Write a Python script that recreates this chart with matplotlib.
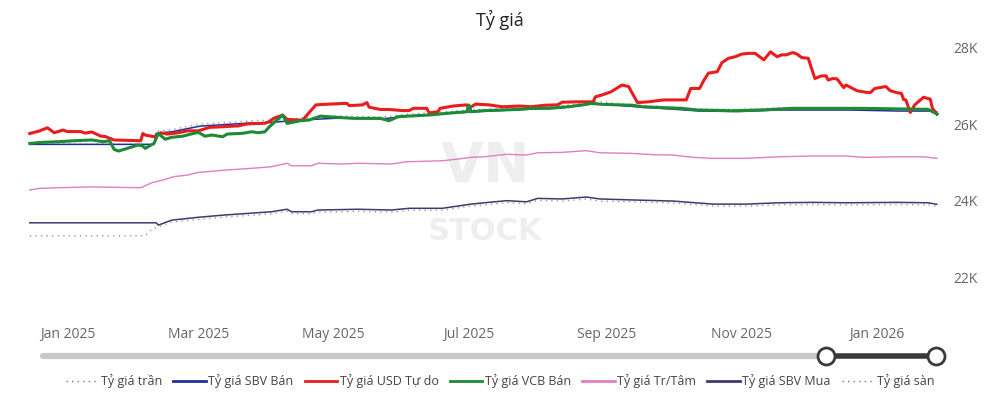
import numpy as np
import pandas as pd
import matplotlib
matplotlib.use("Agg")
import matplotlib.pyplot as plt
import matplotlib.dates as mdates
from matplotlib.lines import Line2D

plt.rcParams['font.family'] = ['Open Sans', 'DejaVu Sans']

BASE = pd.Timestamp("2025-01-01")

# ---- data: days since 2025-01-01 and values (VND) ----
usd_days = [-17, -13, -9, -6, -2, 0, 6, 8, 11, 15, 17, 21, 33, 34, 35, 39, 42, 45, 50, 54, 59, 64, 71, 77, 81,
            89, 91, 93, 97, 99, 106, 112, 118, 126, 127, 133, 135, 136, 141, 145, 151, 154, 156, 162, 163, 167,
            168, 174, 180, 181, 184, 190, 196, 204, 209, 215, 221, 223, 230, 237, 238, 241, 245, 250, 253, 257,
            262, 269, 279, 281, 285, 287, 289, 293, 295, 298, 301, 304, 307, 310, 314, 317, 320, 322, 324, 327,
            329, 331, 334, 337, 340, 342, 343, 345, 347, 350, 351, 356, 360, 362, 364, 369, 371, 374, 376, 377,
            378, 380, 382, 386, 389, 390, 392]
usd_free = [25760, 25820, 25910, 25780, 25850, 25810, 25810, 25770, 25800, 25690, 25680, 25590, 25570, 25760,
            25720, 25675, 25780, 25745, 25780, 25830, 25830, 25920, 25940, 25960, 26010, 26030, 26070, 26160,
            26240, 26130, 26110, 26510, 26530, 26550, 26490, 26510, 26570, 26450, 26390, 26390, 26360, 26360,
            26420, 26420, 26300, 26330, 26420, 26480, 26510, 26420, 26530, 26510, 26460, 26480, 26460, 26500,
            26510, 26580, 26590, 26590, 26720, 26770, 26850, 27030, 26990, 26570, 26590, 26640, 26640, 26940,
            26940, 27160, 27340, 27380, 27610, 27730, 27770, 27840, 27860, 27860, 27690, 27900, 27770, 27820,
            27820, 27880, 27840, 27750, 27730, 27200, 27270, 27270, 27160, 27200, 27190, 26960, 27030, 26880,
            26840, 26830, 26940, 26990, 26880, 26830, 26810, 26650, 26640, 26310, 26510, 26710, 26660, 26420,
            26270]

vcb_days = [-17, -11, -4, 3, 11, 16, 19, 21, 23, 32, 34, 35, 39, 41, 44, 47, 52, 56, 59, 62, 65, 70, 72, 79,
            83, 86, 89, 91, 97, 99, 105, 109, 114, 121, 129, 141, 145, 149, 154, 163, 171, 180, 181, 182, 187,
            196, 204, 209, 217, 226, 232, 236, 241, 255, 259, 269, 277, 284, 300, 312, 327, 357, 388, 392]
vcb_sell = [25500, 25530, 25545, 25570, 25590, 25545, 25570, 25345, 25300, 25460, 25430, 25370, 25500, 25760,
            25610, 25660, 25690, 25750, 25790, 25690, 25720, 25675, 25745, 25765, 25805, 25780, 25805, 25935,
            26245, 26025, 26095, 26113, 26215, 26185, 26157, 26157, 26094, 26200, 26217, 26244, 26288, 26330,
            26506, 26330, 26356, 26375, 26393, 26419, 26419, 26461, 26506, 26550, 26524, 26498, 26461, 26435,
            26419, 26375, 26356, 26375, 26419, 26419, 26393, 26270]

sbv_sell_days = [-17, 39, 40, 47, 60, 75, 84, 90, 94, 105, 123, 141, 154, 168, 181, 200, 222, 238, 258, 272,
                 285, 303, 321, 353, 375, 389, 392]
sbv_sell = [25475, 25475, 25764, 25805, 25955, 26008, 26042, 26042, 26060, 26113, 26165, 26139, 26217, 26270,
            26322, 26375, 26427, 26545, 26453, 26401, 26348, 26335, 26375, 26375, 26348, 26348, 26322]

ceil_days = [-17, 39, 40, 47, 60, 75, 84, 94, 105, 123, 141, 154, 168, 181, 200, 222, 238, 258, 272, 285, 303,
             321, 353, 375, 392]
ceiling = [25480, 25480, 25820, 25860, 26010, 26060, 26100, 26110, 26165, 26220, 26190, 26270, 26320, 26375,
           26430, 26480, 26600, 26505, 26450, 26400, 26390, 26430, 26430, 26400, 26375]

central_days = [-17, -13, -4, 11, 21, 33, 38, 43, 48, 54, 59, 71, 86, 92, 99, 101, 110, 113, 124, 131, 146, 153,
                169, 176, 182, 188, 198, 207, 212, 223, 234, 240, 254, 264, 273, 282, 291, 306, 321, 336, 351,
                359, 374, 386, 392]
central = [24280, 24320, 24340, 24360, 24350, 24340, 24470, 24540, 24630, 24670, 24740, 24800, 24860, 24890,
           24980, 24915, 24915, 24980, 24960, 24980, 24960, 25020, 25045, 25090, 25135, 25150, 25215, 25195,
           25255, 25265, 25310, 25255, 25240, 25205, 25195, 25135, 25110, 25110, 25150, 25170, 25170, 25135,
           25150, 25150, 25110]

sbv_buy_days = [-17, 40, 41, 47, 59, 71, 86, 92, 99, 101, 110, 113, 131, 146, 154, 169, 182, 188, 198, 207, 212,
                223, 234, 240, 254, 273, 291, 306, 321, 336, 351, 374, 388, 392]
sbv_buy = [23420, 23420, 23360, 23490, 23565, 23625, 23685, 23710, 23775, 23710, 23710, 23755, 23775, 23755,
           23800, 23800, 23910, 23945, 24000, 23970, 24060, 24045, 24095, 24045, 24020, 23990, 23910, 23910,
           23945, 23955, 23945, 23955, 23945, 23905]

floor_days = [-17, 35, 38, 41, 47, 59, 71, 86, 92, 99, 101, 110, 113, 131, 146, 154, 169, 182, 188, 198, 207,
              212, 223, 234, 240, 254, 273, 291, 306, 321, 336, 351, 374, 388, 392]
floor_ = [23080, 23080, 23250, 23310, 23440, 23510, 23570, 23630, 23660, 23720, 23660, 23660, 23700, 23720,
          23700, 23750, 23750, 23860, 23890, 23950, 23920, 24010, 23990, 24040, 23990, 23970, 23940, 23860,
          23860, 23890, 23900, 23890, 23900, 23890, 23855]

legend_labels = ["Tỷ giá trần", "Tỷ giá SBV Bán", "Tỷ giá USD Tự do", "Tỷ giá VCB Bán",
                 "Tỷ giá Tr/Tâm", "Tỷ giá SBV Mua", "Tỷ giá sàn"]
ytick_vals = [22000, 24000, 26000, 28000]
ytick_labels = ["22K", "24K", "26K", "28K"]


def to_dates(days):
    return BASE + pd.to_timedelta(days, unit="D")


W, H = 1000, 401
fig = plt.figure(figsize=(W / 100, H / 100), dpi=100)

# main axes (pixel layout)
left_px, right_px, top_px, bot_px = 28, 942, 40, 310
ax = fig.add_axes([left_px / W, 1 - bot_px / H, (right_px - left_px) / W, (bot_px - top_px) / H])

series = [
    (ceil_days, ceiling, dict(color="#8d96bd", lw=1.0, ls=(0, (1, 3)))),
    (sbv_sell_days, sbv_sell, dict(color="#1f2f96", lw=1.1)),
    (usd_days, usd_free, dict(color="#ea1c1c", lw=2.2)),
    (vcb_days, vcb_sell, dict(color="#1d8a36", lw=2.2)),
    (central_days, central, dict(color="#df7fc2", lw=1.0)),
    (sbv_buy_days, sbv_buy, dict(color="#3f3872", lw=1.1)),
    (floor_days, floor_, dict(color="#9a9a9a", lw=1.0, ls=(0, (1, 3)))),
]
handles = []
for (d, v, st), lab in zip(series, legend_labels):
    ax.plot(to_dates(d), v, solid_joinstyle="round", **st)
    hst = dict(st)
    if "ls" not in hst:
        hst["lw"] = 2.0
    else:
        hst["color"] = "#777777"
    handles.append(Line2D([], [], label=lab, **hst))

# watermark
ax.text(0.5, 0.53, "VN", transform=ax.transAxes, ha="center", va="center", fontsize=40,
        fontweight="bold", color="#eeeeee", zorder=0, family="DejaVu Sans")
ax.text(0.5, 0.29, "STOCK", transform=ax.transAxes, ha="center", va="center", fontsize=22,
        fontweight="bold", color="#eeeeee", zorder=0, family="DejaVu Sans")

x0 = BASE + pd.Timedelta(days=(left_px - 67.5) * 0.4509)
x1 = BASE + pd.Timedelta(days=(right_px - 67.5) * 0.4509)
ax.set_xlim(x0, x1)
ppk = 38.17
ax.set_ylim(22000 - (bot_px - 277) / ppk * 1000, 28000 + (48 - top_px) / ppk * 1000)

ax.xaxis.set_major_locator(mdates.MonthLocator(bymonth=[1, 3, 5, 7, 9, 11]))
ax.xaxis.set_major_formatter(mdates.DateFormatter("%b %Y"))
ax.set_yticks(ytick_vals)
ax.set_yticklabels(ytick_labels)
ax.yaxis.tick_right()
ax.tick_params(axis="both", length=0, labelsize=10, labelcolor="#666666")
ax.tick_params(axis="x", pad=12)
ax.tick_params(axis="y", pad=8)
for s in ax.spines.values():
    s.set_visible(False)

fig.text(0.5, 1 - 20 / H, "Tỷ giá", ha="center", va="center", fontsize=13, color="#222222")

# slider overlay
ov = fig.add_axes([0, 0, 1, 1], facecolor="none")
ov.set_xlim(0, W)
ov.set_ylim(H, 0)
ov.axis("off")
ov.plot([43, 826], [356, 356], color="#c8c8c8", lw=4.5, solid_capstyle="round")
ov.plot([826, 936], [356, 356], color="#3a3a3a", lw=4.0, solid_capstyle="butt")
ov.scatter([826, 936], [356, 356], s=150, facecolor="white", edgecolor="#3a3a3a", linewidth=2, zorder=5)

fig.legend(handles=handles, loc="center", bbox_to_anchor=(0.5, 1 - 381 / H), ncol=7, frameon=False,
           fontsize=9, handlelength=2.6, handletextpad=0.2, columnspacing=0.9, labelcolor="#444444")

fig.savefig("out.png", dpi=100)
